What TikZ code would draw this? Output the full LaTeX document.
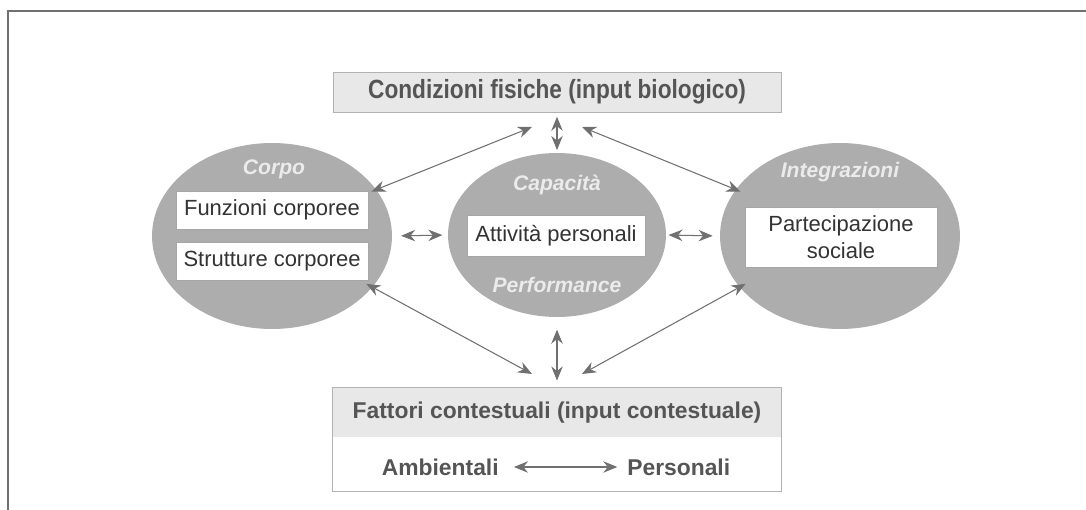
\documentclass[tikz,border=0pt]{standalone}
\usepackage{fontspec}
\setmainfont{Liberation Sans}
\newfontfamily\condfont[FakeStretch=0.86]{Liberation Sans}
\usetikzlibrary{arrows.meta,shapes.geometric}
\definecolor{ovalgray}{HTML}{ADADAD}
\definecolor{headgray}{HTML}{E8E8E8}
\definecolor{linegray}{HTML}{707070}
\definecolor{textgray}{HTML}{555555}

\begin{document}
\begin{tikzpicture}[x=0.02cm, y=-0.02cm,
  every node/.style={font=\fontsize{12.5}{15}\selectfont},
  oval/.style={ellipse, fill=ovalgray, inner sep=0pt},
  item/.style={draw=gray!70, fill=white, inner sep=0pt, align=center, text=black!80},
  tag/.style={font=\fontsize{12}{14}\selectfont\bfseries\itshape, text=white!92!black},
  head/.style={font=\fontsize{13}{15}\selectfont\bfseries, text=textgray},
  arr/.style={<->, >={Stealth[length=8pt,width=6.5pt]}, draw=linegray, line width=0.6pt}]
  \useasboundingbox (0,0) rectangle (1086,510);
  \draw[linegray, line width=1.1pt] (1086,11) -- (8,11) -- (8,510);

  % top and bottom boxes
  \node[draw=gray!60, fill=headgray, minimum width=8.96cm, minimum height=0.8cm, inner sep=0pt,
        font=\condfont\fontsize{15}{17}\selectfont\bfseries, text=textgray] (fisiche) at (557,92)
        {Condizioni fisiche (input biologico)};
  \node[draw=gray!60, minimum width=8.98cm, minimum height=2.08cm, inner sep=0pt] (fattori) at (557,439) {};
  \fill[headgray] ([shift={(0.5pt,-0.5pt)}]fattori.north west) rectangle ([xshift=-0.5pt]fattori.east |- 0,437);
  \node[head] (contesto) at (557,413) {Fattori contestuali (input contestuale)};
  \node[head, anchor=east, inner sep=0pt] (amb) at (499,467) {Ambientali};
  \node[head, anchor=west, inner sep=0pt] (pers) at (627,467) {Personali};
  \draw[arr, shorten <=8.5pt, shorten >=5.5pt] (amb.east) -- (pers.west);

  % ovals
  \node[oval, minimum width=4.8cm, minimum height=3.72cm] (corpo) at (272,236) {};
  \node[oval, minimum width=4.36cm, minimum height=3.28cm] (capac) at (557,235) {};
  \node[oval, minimum width=4.8cm, minimum height=3.72cm] (integ) at (840,236) {};

  \node[tag] at (274,169) {Corpo};
  \node[tag] at (557,185) {Capacità};
  \node[tag] at (557,285) {Performance};
  \node[tag] at (840,172) {Integrazioni};

  \node[item, minimum width=3.84cm, minimum height=0.76cm] (funz) at (272,210) {Funzioni corporee};
  \node[item, minimum width=3.84cm, minimum height=0.76cm] (strut) at (272,261) {Strutture corporee};
  \node[item, minimum width=3.56cm, minimum height=0.82cm] (attiv) at (556,236) {Attività personali};
  \node[item, minimum width=3.84cm, minimum height=1.2cm] (parte) at (841,237) {Partecipazione\\sociale};

  % connectors
  \coordinate (tl) at (532,127);
  \coordinate (tr) at (582,127);
  \coordinate (bl) at (532,374);
  \coordinate (br) at (582,374);
  \draw[arr, shorten >=-3pt] (tl) -- (corpo.24);
  \draw[arr, shorten >=-3pt] (tr) -- (integ.156);
  \draw[arr, shorten >=-4pt] (bl) -- (corpo.-27);
  \draw[arr, shorten >=-4pt] (br) -- (integ.207);
  \draw[arr, shorten <=2.5pt, shorten >=1.5pt] (fisiche.south) -- (capac.north);
  \draw[arr, shorten <=7pt, shorten >=3.5pt] (capac.south) -- (fattori.north);
  \draw[arr, shorten <=5pt, shorten >=3pt] (corpo.east) -- (capac.west);
  \draw[arr, shorten <=1.2pt, shorten >=4pt] (capac.east) -- (integ.west);
\end{tikzpicture}
\end{document}
